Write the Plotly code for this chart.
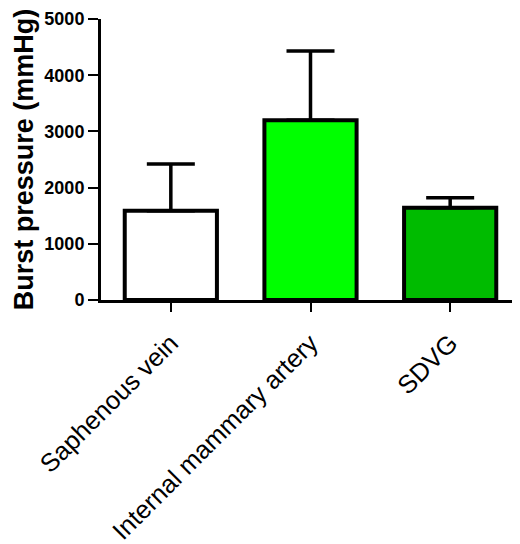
import plotly.graph_objects as go

categories = ["Saphenous vein", "Internal mammary artery", "SDVG"]
means = [1590, 3200, 1640]
errors_up = [830, 1230, 180]
bar_colors = ["#ffffff", "#00ff00", "#00bb00"]
y_ticks = [0, 1000, 2000, 3000, 4000, 5000]

fig = go.Figure()
fig.add_trace(go.Bar(
    x=categories,
    y=means,
    width=0.66,
    marker=dict(color=bar_colors, line=dict(color="black", width=4)),
    error_y=dict(type="data", symmetric=False, array=errors_up,
                 arrayminus=[0] * len(means), color="black", thickness=3.5, width=24),
))

font_family = "Arial, Liberation Sans, sans-serif"
fig.update_layout(
    width=520, height=544,
    margin=dict(l=93, r=8, t=11, b=252),
    plot_bgcolor="white", paper_bgcolor="white",
    showlegend=False,
    font=dict(family=font_family, color="black"),
    xaxis=dict(
        range=[-0.5, 2.5],
        automargin=False,
        showline=True, linecolor="black", linewidth=3,
        ticks="outside", ticklen=9, tickwidth=2, tickcolor="black",
        tickangle=-45,
        ticklabelstandoff=6,
        tickfont=dict(size=25.5, family=font_family, color="black"),
        showgrid=False, zeroline=False,
    ),
    yaxis=dict(
        range=[0, 5000],
        automargin=False,
        tickvals=y_ticks,
        ticktext=[str(v) for v in y_ticks],
        showline=True, linecolor="black", linewidth=3,
        ticks="outside", ticklen=10, tickwidth=2, tickcolor="black",
        tickfont=dict(size=18, family=font_family, color="black", weight="bold"),
        title=dict(text="<b>Burst pressure (mmHg)</b>",
                   font=dict(size=27, family=font_family, color="black"), standoff=3),
        showgrid=False, zeroline=False,
    ),
)

fig.write_html("out.html")
